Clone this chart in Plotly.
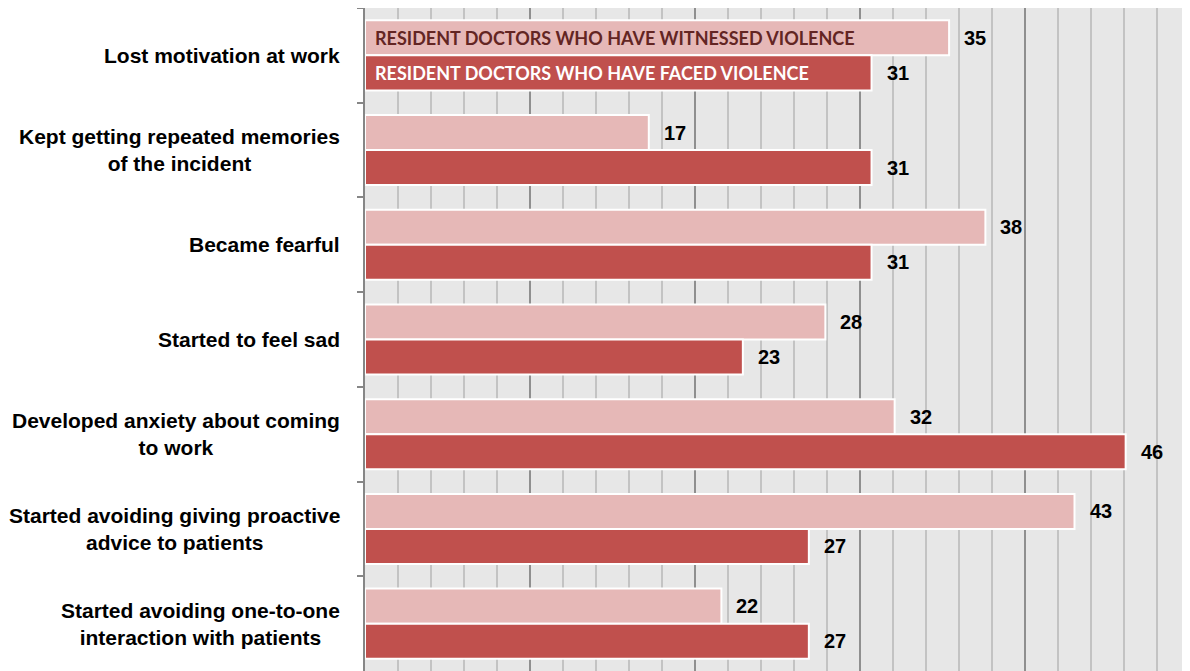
import plotly.graph_objects as go

categories = [
    "Lost motivation at work",
    "Kept getting repeated memories<br>of the incident",
    "Became fearful",
    "Started to feel sad",
    "Developed anxiety about coming<br>to work",
    "Started avoiding giving proactive<br>advice to patients",
    "Started avoiding one-to-one<br>interaction with patients",
]
witnessed = [35.4, 17.2, 37.6, 27.9, 32.1, 43.0, 21.6]
faced = [30.7, 30.7, 30.7, 22.9, 46.1, 26.9, 26.9]
series_names = ["RESIDENT DOCTORS WHO HAVE WITNESSED VIOLENCE",
                "RESIDENT DOCTORS WHO HAVE FACED VIOLENCE"]

LIGHT = "#e6b8b7"
DARK = "#c0504d"
ARIAL = "Liberation Sans, Arial"

fig = go.Figure()
fig.add_trace(go.Bar(y=categories, x=witnessed, orientation="h", name=series_names[0],
                     marker=dict(color=LIGHT, line=dict(color="white", width=2))))
fig.add_trace(go.Bar(y=categories, x=faced, orientation="h", name=series_names[1],
                     marker=dict(color=DARK, line=dict(color="white", width=2))))

annotations = []
for cat, w, f in zip(categories, witnessed, faced):
    annotations.append(dict(x=w, y=cat, xref="x", yref="y", text=f"<b>{w:.0f}</b>", showarrow=False,
                            xanchor="left", xshift=13, yshift=17.5,
                            font=dict(family=ARIAL, size=20, color="black")))
    annotations.append(dict(x=f, y=cat, xref="x", yref="y", text=f"<b>{f:.0f}</b>", showarrow=False,
                            xanchor="left", xshift=13, yshift=-17.5,
                            font=dict(family=ARIAL, size=20, color="black")))
    annotations.append(dict(x=0, y=cat, xref="paper", yref="y", text=f"<b>{cat}</b>", showarrow=False,
                            xanchor="right", xshift=-23, align="center",
                            font=dict(family=ARIAL, size=21, color="black")))
# series names drawn inside the first pair of bars
annotations.append(dict(x=0, y=categories[0], xref="x", yref="y", text=f"<b>{series_names[0]}</b>",
                        showarrow=False, xanchor="left", xshift=8, yshift=17.5,
                        font=dict(family="Lato", size=18, color="#632523")))
annotations.append(dict(x=0, y=categories[0], xref="x", yref="y", text=f"<b>{series_names[1]}</b>",
                        showarrow=False, xanchor="left", xshift=8, yshift=-17.5,
                        font=dict(family="Lato", size=18, color="white")))

# page body has an 8px margin, so the figure is sized to end at the window edge
fig.update_layout(
    width=1182, height=663,
    margin=dict(l=357, r=0, t=0, b=0),
    paper_bgcolor="white", plot_bgcolor="#e7e7e7",
    barmode="group", bargap=0.26, bargroupgap=0,
    showlegend=False,
    annotations=annotations,
)
fig.update_xaxes(range=[0, 50], dtick=10, showgrid=True, gridcolor="#8f8f8f", gridwidth=1.5,
                 minor=dict(dtick=2, showgrid=True, gridcolor="#c3c3c3", gridwidth=1.5),
                 showticklabels=False, zeroline=False, showline=False)
fig.update_yaxes(autorange="reversed", showticklabels=False, ticks="outside", tickson="boundaries",
                 ticklen=6, tickcolor="#868686", tickwidth=1.5,
                 showline=True, linecolor="#868686", linewidth=2, showgrid=False)

fig.write_html("out.html")
